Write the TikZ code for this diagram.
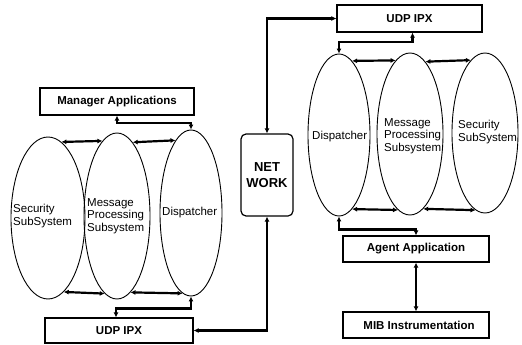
\documentclass[tikz,border=0pt]{standalone}
\usepackage{fontspec}
\setmainfont{Liberation Sans}
\usetikzlibrary{arrows.meta,shapes.geometric}
\tikzset{
  box/.style={draw, line width=1.2pt, inner sep=0pt, font=\bfseries\fontsize{11.5}{13}\selectfont},
  ell/.style={draw, ellipse, line width=0.9pt, inner sep=0pt},
  etext/.style={anchor=west, align=left, inner sep=0pt, font=\fontsize{11.5}{12.5}\selectfont},
  conn/.style={line width=2.2pt, >={Latex[length=5pt,width=5pt]}, <->},
}
\begin{document}
\begin{tikzpicture}[x=1pt,y=-1pt]
\useasboundingbox (0,0) rectangle (522,345);
% boxes
\node[box, minimum width=154pt, minimum height=27pt] (mgr) at (117,101.5) {Manager Applications};
\node[box, minimum width=148pt, minimum height=25pt] (ludp) at (119,330.5) {UDP IPX};
\node[box, rounded corners=5pt, minimum width=52pt, minimum height=82pt, align=center,
      font=\bfseries\fontsize{13}{16}\selectfont] (net) at (267,175) {NET\\WORK};
\node[box, minimum width=145pt, minimum height=27pt] (rudp) at (409.5,18.5) {UDP IPX};
\node[box, minimum width=146pt, minimum height=26pt] (agent) at (416,249) {Agent Application};
\node[box, minimum width=146pt, minimum height=26pt] (mib) at (416,325) {\hspace*{6pt}MIB Instrumentation};
% left ellipses
\node[ell, minimum width=74pt, minimum height=162pt] (lsec) at (48,218) {};
\node[ell, minimum width=66pt, minimum height=166pt] (lmsg) at (117,216) {};
\node[ell, minimum width=62pt, minimum height=166pt] (ldisp) at (191,213) {};
\node[etext] (lsect) at (13,216) {Security\\SubSystem};
\node[etext] (lmsgt) at (87,216) {Message\\Processing\\Subsystem};
\node[etext] (ldispt) at (162,213) {Dispatcher};
% right ellipses
\node[ell, minimum width=62pt, minimum height=162pt] (rdisp) at (339,135) {};
\node[ell, minimum width=66pt, minimum height=162pt] (rmsg) at (410,134) {};
\node[ell, minimum width=66pt, minimum height=160pt] (rsec) at (485,133) {};
\node[etext] (rdispt) at (312,137) {Dispatcher};
\node[etext] (rmsgt) at (384,136) {Message\\Processing\\Subsystem};
\node[etext] (rsect) at (458,132) {Security\\SubSystem};
% connectors
\draw[conn] (mgr.south) -- ++(0,7) -| (ldisp.north);
\draw[conn] (ldisp.south) -- ++(0,12) -| ([xshift=-3pt]ludp.north);
\draw[conn] (net.north) |- (rudp.west);
\draw[conn] (net.south) |- (ludp.east);
\draw[conn] ([xshift=3pt]rudp.south) -- ++(0,9.5) -| (rdisp.north);
\draw[conn] (rdisp.south) -- ++(0,13) -| (agent.north);
\draw[conn] (agent.south) -- (mib.north);
% ellipse links
\draw[conn] (lsec.80.4) -- (lmsg.101.4);
\draw[conn] (lmsg.78.6) -- (ldisp.102.7);
\draw[conn] (lsec.-78.5) -- (lmsg.-99.9);
\draw[conn] (lmsg.-80.1) -- (ldisp.-96.9);
\draw[conn] (rdisp.80.3) -- (rmsg.101.1);
\draw[conn] (rmsg.78.9) -- (rsec.101.3);
\draw[conn] (rdisp.-80.3) -- (rmsg.-99.5);
\draw[conn] (rmsg.-80.5) -- (rsec.-97.7);
\end{tikzpicture}
\end{document}
